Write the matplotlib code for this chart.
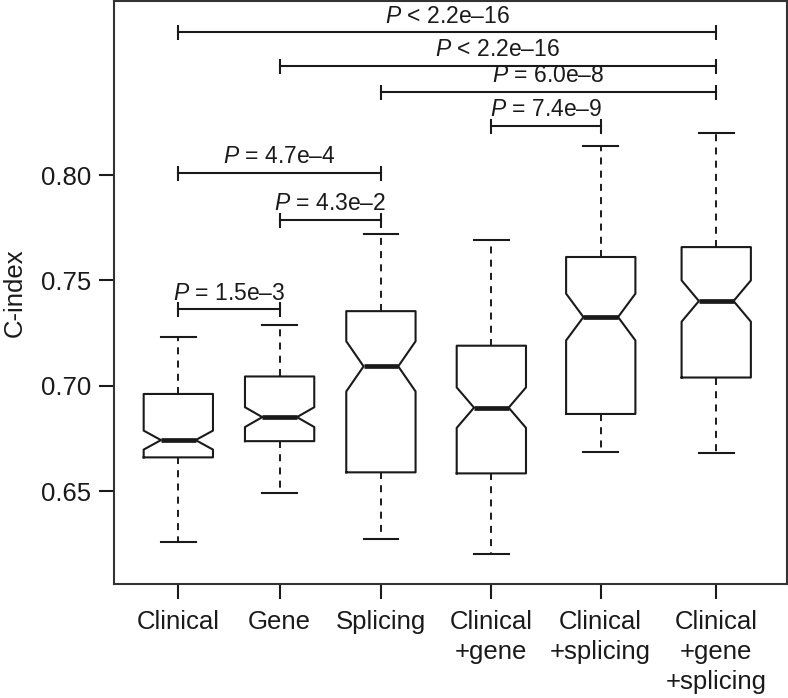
import matplotlib
matplotlib.use("Agg")
import matplotlib.pyplot as plt

plt.rcParams['font.family'] = ['Liberation Sans', 'DejaVu Sans']
plt.rcParams['mathtext.fontset'] = 'custom'
plt.rcParams['mathtext.rm'] = 'Liberation Sans'
plt.rcParams['mathtext.it'] = 'Liberation Sans:italic'

# box statistics
groups = ['Clinical', 'Gene', 'Splicing', 'Clinical\n+gene',
          'Clinical\n+splicing', 'Clinical\n+gene\n+splicing']
whislo = [0.6258, 0.6492, 0.6272, 0.6201, 0.6684, 0.6680]
q1 = [0.6660, 0.6737, 0.6589, 0.6584, 0.6866, 0.7039]
med = [0.6742, 0.6851, 0.7092, 0.6896, 0.7326, 0.7402]
q3 = [0.6961, 0.7044, 0.7354, 0.7190, 0.7611, 0.7658]
whishi = [0.7233, 0.7286, 0.7722, 0.7690, 0.8139, 0.8201]
notch = [0.0045, 0.0047, 0.0119, 0.0096, 0.0111, 0.0098]

# pairwise comparisons
cmp_left = [0, 1, 2, 3, 0, 1, 0]
cmp_right = [5, 5, 5, 4, 2, 2, 1]
cmp_y = [0.8677, 0.8519, 0.8393, 0.8234, 0.8011, 0.7786, 0.7362]
cmp_text = ['$P$ < 2.2e\u201316', '$P$ < 2.2e\u201316', '$P$ = 6.0e\u20138',
            '$P$ = 7.4e\u20139', '$P$ = 4.7e\u20134', '$P$ = 4.3e\u20132',
            '$P$ = 1.5e\u20133']

positions = [1, 2, 3, 4.09, 5.17, 6.31]
ink = '#1a1a1a'

stats = []
for i in range(len(groups)):
    stats.append(dict(label=groups[i], whislo=whislo[i], q1=q1[i], med=med[i],
                      q3=q3[i], whishi=whishi[i], cilo=med[i] - notch[i],
                      cihi=med[i] + notch[i], fliers=[]))

fig = plt.figure(figsize=(7.88, 6.98), dpi=100)
ax = fig.add_axes([0.1453, 0.1633, 0.8531, 0.8353])

ax.bxp(stats, positions=positions, widths=0.684, shownotches=True,
       showfliers=False, manage_ticks=False,
       boxprops=dict(color=ink, lw=1.5),
       whiskerprops=dict(color=ink, lw=1.4, ls=(0, (3.6, 3.2))),
       capprops=dict(color=ink, lw=1.5),
       medianprops=dict(color=ink, lw=3.4, solid_capstyle='butt'))

for a, b, y, t in zip(cmp_left, cmp_right, cmp_y, cmp_text):
    xa, xb = positions[a], positions[b]
    ax.plot([xa, xb], [y, y], color=ink, lw=1.5, marker='|', ms=10.8, mew=1.5)
    ax.annotate(t, ((xa + xb) / 2, y), xytext=(0, 7), textcoords='offset points',
                ha='center', va='baseline', fontsize=16.5, color=ink)

ax.set_xlim(0.37, 7.006)
ax.set_ylim(0.6059, 0.8826)
ax.set_xticks(positions)
ax.set_xticklabels(groups, linespacing=1.3)
ax.set_yticks([0.65, 0.70, 0.75, 0.80])
ax.set_yticklabels(['0.65', '0.70', '0.75', '0.80'])
ax.tick_params(axis='both', labelsize=18.5, length=11, width=1.5, color=ink,
               labelcolor=ink, direction='out')
ax.tick_params(axis='y', pad=6)
ax.tick_params(axis='x', pad=8)
ax.set_ylabel('C-index', fontsize=18.5, color=ink, labelpad=10)
for s in ax.spines.values():
    s.set_linewidth(1.5)
    s.set_color('#333333')

fig.savefig('out.png', dpi=100)
